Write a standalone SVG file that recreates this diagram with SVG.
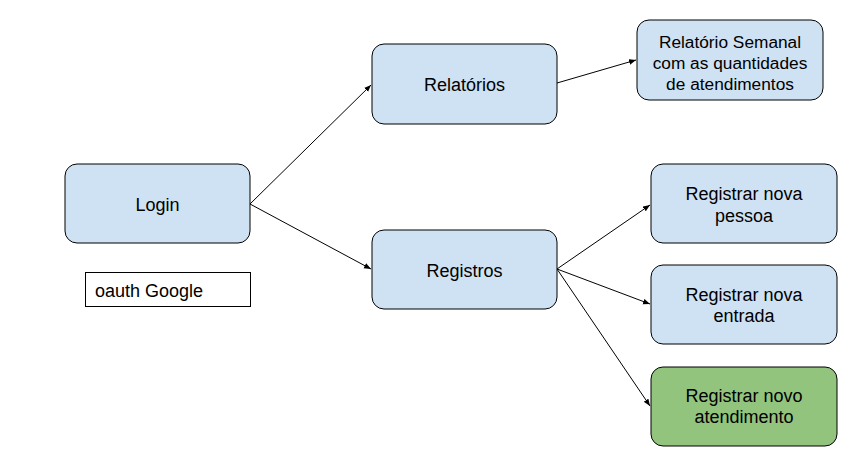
<svg xmlns="http://www.w3.org/2000/svg" width="861" height="473" viewBox="0 0 861 473">
<defs>
<marker id="ah" viewBox="0 0 10 10" refX="10" refY="5" markerWidth="7" markerHeight="7" orient="auto" markerUnits="userSpaceOnUse">
<path d="M0,1 L10,5 L0,9 z" fill="#000"/>
</marker>
<style>
.n{fill:#cfe2f3;stroke:#000;stroke-width:1}
.g{fill:#93c47d;stroke:#000;stroke-width:1}
.t{font-family:"Liberation Sans",Arial,sans-serif;font-size:18px;fill:#000;text-anchor:middle}
.s{font-size:17.3px}
.c{stroke:#000;stroke-width:1;fill:none;marker-end:url(#ah)}
</style>
</defs>
<rect width="861" height="473" fill="#fff"/>
<g id="connectors">
<line class="c" x1="250" y1="204" x2="371" y2="85"/>
<line class="c" x1="250" y1="204" x2="371" y2="269"/>
<line class="c" x1="557" y1="83" x2="636" y2="60"/>
<line class="c" x1="557" y1="269" x2="650" y2="205"/>
<line class="c" x1="557" y1="269" x2="650" y2="304"/>
<line class="c" x1="557" y1="269" x2="650" y2="406"/>
</g>
<g id="login">
<rect class="n" x="65" y="164" width="185" height="79" rx="12"/>
<text class="t" x="157.5" y="210.5">Login</text>
</g>
<g id="oauth">
<rect x="85.5" y="272.5" width="165" height="34" fill="#fff" stroke="#000"/>
<text x="95" y="296.5" font-family="Liberation Sans,Arial,sans-serif" font-size="18">oauth Google</text>
</g>
<g id="relatorios">
<rect class="n" x="372" y="44" width="185" height="80" rx="12"/>
<text class="t" x="464.5" y="91">Relatórios</text>
</g>
<g id="relatorio-semanal">
<rect class="n" x="637" y="20" width="186" height="80" rx="12"/>
<text class="t s" x="730" y="48">Relatório Semanal</text>
<text class="t s" x="730" y="69">com as quantidades</text>
<text class="t s" x="730" y="90">de atendimentos</text>
</g>
<g id="registros">
<rect class="n" x="372" y="230" width="185" height="79" rx="12"/>
<text class="t" x="464.5" y="276.5">Registros</text>
</g>
<g id="nova-pessoa">
<rect class="n" x="651" y="164" width="186" height="79" rx="12"/>
<text class="t" x="744" y="200">Registrar nova</text>
<text class="t" x="744" y="221.5">pessoa</text>
</g>
<g id="nova-entrada">
<rect class="n" x="651" y="265" width="186" height="79" rx="12"/>
<text class="t" x="744" y="300.5">Registrar nova</text>
<text class="t" x="744" y="322">entrada</text>
</g>
<g id="novo-atendimento">
<rect class="g" x="651" y="367" width="186" height="79" rx="12"/>
<text class="t" x="744" y="401.5">Registrar novo</text>
<text class="t" x="744" y="423">atendimento</text>
</g>
</svg>
